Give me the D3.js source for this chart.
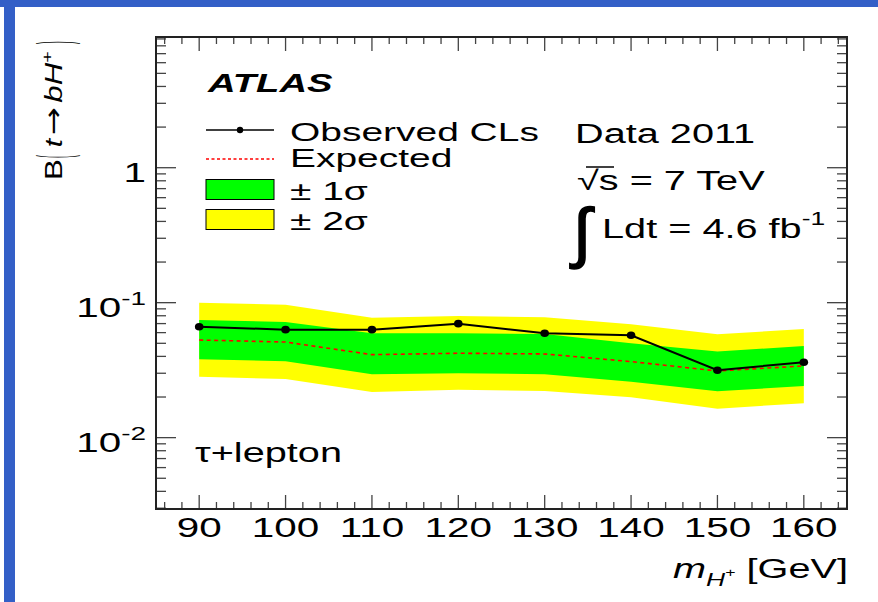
<!DOCTYPE html>
<html>
<head>
<meta charset="utf-8">
<script src="https://cdn.jsdelivr.net/npm/d3@7"></script>
<style>
  body { margin: 0; background: #fff; }
  svg text { font-family: "Liberation Sans", Arial, sans-serif; fill: #000; }
</style>
</head>
<body>
<div id="chart"></div>
<script>
// Charged Higgs mass points and limits on B(t -> bH+)
const masses = [90, 100, 110, 120, 130, 140, 150, 160];
const observed = [0.0664, 0.0631, 0.0631, 0.0699, 0.0593, 0.0573, 0.0316, 0.0362];
const expected = [0.0529, 0.0511, 0.0412, 0.0422, 0.0417, 0.0366, 0.0312, 0.0340];
const sigma1Up = [0.0744, 0.0719, 0.0593, 0.0593, 0.0586, 0.0500, 0.0434, 0.0478];
const sigma1Down = [0.0381, 0.0368, 0.0295, 0.0300, 0.0295, 0.0260, 0.0221, 0.0241];
const sigma2Up = [0.100, 0.0966, 0.0774, 0.0797, 0.0780, 0.0692, 0.0583, 0.0639];
const sigma2Down = [0.0283, 0.0272, 0.0218, 0.0226, 0.0222, 0.0199, 0.0164, 0.0180];

// Tick labels
const xTicks = [90, 100, 110, 120, 130, 140, 150, 160];
const yTicks = [1, 0.1, 0.01];
const yTickBase = ["1", "10", "10"];
const yTickExp = ["", "-1", "-2"];

const width = 878;
const height = 602;
const SX = 1.47; // fonts in the figure are drawn wide

const frame = { left: 156, right: 847, top: 37, bottom: 509 };

const svg = d3
  .select("#chart")
  .append("svg")
  .attr("width", width)
  .attr("height", height);

// Blue slide border
svg.append("rect").attr("x", 0).attr("y", 0).attr("width", width).attr("height", 7).attr("fill", "#335fc7");
svg.append("rect").attr("x", 4).attr("y", 0).attr("width", 11).attr("height", height).attr("fill", "#335fc7");

const x = d3.scaleLinear().domain([85, 165]).range([frame.left, frame.right]);
const y = d3.scaleLog().domain([0.00296, 9.3]).range([frame.bottom, frame.top]);

const rows = masses.map((m, i) => ({
  m,
  obs: observed[i],
  exp: expected[i],
  s1u: sigma1Up[i],
  s1d: sigma1Down[i],
  s2u: sigma2Up[i],
  s2d: sigma2Down[i],
}));

// Bands
svg
  .append("path")
  .datum(rows)
  .attr("fill", "#ffff00")
  .attr("d", d3.area().x((d) => x(d.m)).y0((d) => y(d.s2d)).y1((d) => y(d.s2u)));

svg
  .append("path")
  .datum(rows)
  .attr("fill", "#00ff00")
  .attr("d", d3.area().x((d) => x(d.m)).y0((d) => y(d.s1d)).y1((d) => y(d.s1u)));

// Expected line
svg
  .append("path")
  .datum(rows)
  .attr("fill", "none")
  .attr("stroke", "#ff0000")
  .attr("stroke-width", 1.6)
  .attr("stroke-dasharray", "4,3.5")
  .attr("d", d3.line().x((d) => x(d.m)).y((d) => y(d.exp)));

// Observed line + markers
svg
  .append("path")
  .datum(rows)
  .attr("fill", "none")
  .attr("stroke", "#000")
  .attr("stroke-width", 2)
  .attr("d", d3.line().x((d) => x(d.m)).y((d) => y(d.obs)));

svg
  .append("g")
  .selectAll("ellipse")
  .data(rows)
  .join("ellipse")
  .attr("cx", (d) => x(d.m))
  .attr("cy", (d) => y(d.obs))
  .attr("rx", 4.3)
  .attr("ry", 3.8)
  .attr("fill", "#000");

// Axis ticks (ROOT style, on all four sides)
const tickColor = "#444";
const ticks = svg.append("g").attr("stroke", tickColor).attr("stroke-width", 1.3);

const xMinor = d3.range(86, 165, 2);
xMinor.forEach((v) => {
  const major = v % 10 === 0;
  const len = major ? 14 : 7;
  ticks.append("line").attr("x1", x(v)).attr("x2", x(v)).attr("y1", frame.bottom).attr("y2", frame.bottom - len);
  ticks.append("line").attr("x1", x(v)).attr("x2", x(v)).attr("y1", frame.top).attr("y2", frame.top + len);
});

const yAll = [];
[0.001, 0.01, 0.1, 1].forEach((dec) => {
  for (let k = 1; k <= 9; k++) yAll.push({ v: dec * k, major: k === 1 });
});
yAll
  .filter((t) => t.v >= 0.00296 && t.v <= 9.3)
  .forEach((t) => {
    const len = t.major ? 20 : 10;
    const yy = y(t.v);
    ticks.append("line").attr("x1", frame.left).attr("x2", frame.left + len).attr("y1", yy).attr("y2", yy);
    ticks.append("line").attr("x1", frame.right).attr("x2", frame.right - len).attr("y1", yy).attr("y2", yy);
  });

// Frame
svg
  .append("rect")
  .attr("x", frame.left)
  .attr("y", frame.top)
  .attr("width", frame.right - frame.left)
  .attr("height", frame.bottom - frame.top)
  .attr("fill", "none")
  .attr("stroke", "#222")
  .attr("stroke-width", 2);

// helper for wide text
function wideText(px, py, size, anchor) {
  return svg
    .append("text")
    .attr("transform", `translate(${px},${py}) scale(${SX},1)`)
    .attr("font-size", size)
    .attr("text-anchor", anchor || "start");
}

// X tick labels
xTicks.forEach((v) => {
  wideText(x(v), 537, 27.5, "middle").text(v);
});

// Y tick labels
yTicks.forEach((v, i) => {
  const t = wideText(146, y(v) + 14, 27.5, "end");
  t.append("tspan").text(yTickBase[i]);
  if (yTickExp[i]) {
    t.append("tspan").attr("font-size", 19).attr("dy", -12).text(yTickExp[i]);
  }
});

// X axis title
const xt = wideText(848, 578, 27, "end");
xt.append("tspan").attr("font-style", "italic").text("m");
xt.append("tspan").attr("font-style", "italic").attr("font-size", 18).attr("dy", 8).text("H");
xt.append("tspan").attr("font-size", 12).attr("dy", -9).text("+");
xt.append("tspan").attr("dy", 1).text(" [GeV]");

// Y axis title: B( t -> bH+ ), rotated
const yl = svg.append("g").attr("transform", "translate(62,180) rotate(-90)");
const ylt = yl
  .append("text")
  .attr("transform", "scale(1.3,1)")
  .attr("font-size", 24);
ylt.append("tspan").text("B");
ylt.append("tspan").attr("dx", 9).attr("font-style", "italic").text("t");
ylt.append("tspan").attr("dx", 3).attr("font-family", "DejaVu Sans").attr("font-size", 26).text("\u2192");
ylt.append("tspan").attr("dx", 3).attr("font-style", "italic").text("bH");
ylt.append("tspan").attr("font-size", 15).attr("dy", -10).text("+");
yl.append("text").attr("transform", "translate(22,8) scale(0.35,1.9)").attr("font-size", 24).text("(");
yl.append("text").attr("transform", "translate(136,8) scale(0.35,1.9)").attr("font-size", 24).text(")");

// ATLAS label
wideText(208, 92, 26)
  .attr("font-weight", "bold")
  .attr("font-style", "italic")
  .text("ATLAS");

// Legend
const leg = svg.append("g");
leg.append("line").attr("x1", 206).attr("x2", 274).attr("y1", 130).attr("y2", 130).attr("stroke", "#000").attr("stroke-width", 1.5);
leg.append("circle").attr("cx", 240).attr("cy", 130).attr("r", 3.2).attr("fill", "#000");
leg.append("line").attr("x1", 206).attr("x2", 274).attr("y1", 159).attr("y2", 159).attr("stroke", "#ff0000").attr("stroke-width", 1.3).attr("stroke-dasharray", "3,2.5");
leg.append("rect").attr("x", 206).attr("y", 179.5).attr("width", 68).attr("height", 20).attr("fill", "#00ff00").attr("stroke", "#000").attr("stroke-width", 1);
leg.append("rect").attr("x", 206).attr("y", 209.5).attr("width", 68).attr("height", 20).attr("fill", "#ffff00").attr("stroke", "#000").attr("stroke-width", 1);

wideText(290, 141, 26.5).text("Observed CLs");
wideText(290, 167, 26.5).text("Expected");
wideText(290, 200, 26.5).text("\u00b1 1\u03c3");
wideText(290, 230, 26.5).text("\u00b1 2\u03c3");

// Data/energy/lumi labels
wideText(575, 143, 27).text("Data 2011");
wideText(577, 190, 27).text("\u221as = 7 TeV");
svg.append("line").attr("x1", 586).attr("x2", 614).attr("y1", 167).attr("y2", 167).attr("stroke", "#000").attr("stroke-width", 1.5);
svg
  .append("text")
  .attr("transform", "translate(573,255)")
  .attr("font-size", 66)
  .attr("stroke", "#000")
  .attr("stroke-width", 1.6)
  .text("\u222b");
const lumi = wideText(602, 238, 27);
lumi.append("tspan").text("Ldt = 4.6 fb");
lumi.append("tspan").attr("font-size", 18).attr("dy", -13).text("-1");

// Channel label
wideText(195, 462, 27).text("\u03c4+lepton");
</script>
</body>
</html>
